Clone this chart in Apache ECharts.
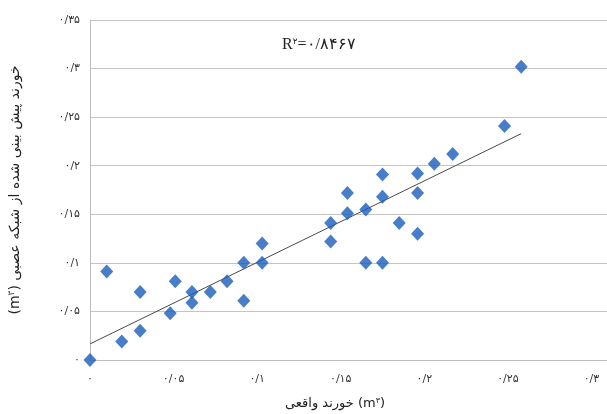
<!DOCTYPE html>
<html>
<head>
<meta charset="utf-8">
<script src="https://cdn.jsdelivr.net/npm/echarts@6/dist/echarts.min.js"></script>
<style>
  html, body { margin: 0; padding: 0; background: #fff; overflow: hidden; }
  #chart { width: 607px; height: 414px; }
</style>
</head>
<body>
<div id="chart"></div>
<script>
// Observed sediment volume (m³) vs. neural-network prediction (m³)
const observed = [
  0.000, 0.010, 0.019, 0.030, 0.030, 0.048, 0.051, 0.061, 0.061, 0.072,
  0.082, 0.092, 0.092, 0.103, 0.103, 0.144, 0.144, 0.154, 0.154, 0.165,
  0.165, 0.175, 0.175, 0.175, 0.185, 0.196, 0.196, 0.196, 0.206, 0.217,
  0.248, 0.258
];
const predicted = [
  0.000, 0.091, 0.019, 0.070, 0.030, 0.048, 0.081, 0.070, 0.059, 0.070,
  0.081, 0.100, 0.061, 0.100, 0.120, 0.141, 0.122, 0.172, 0.151, 0.155,
  0.100, 0.191, 0.168, 0.100, 0.141, 0.192, 0.172, 0.130, 0.202, 0.212,
  0.241, 0.302
];
const xTicks = [0, 0.05, 0.1, 0.15, 0.2, 0.25, 0.3, 0.35];
const yTicks = [0, 0.05, 0.1, 0.15, 0.2, 0.25, 0.3, 0.35];
const rSquaredText = '۰/۸۴۶۷';
const xTitle = 'خورند واقعی';
const yTitle = 'خورند پیش بینی شده از شبکه عصبی';

// Persian digits with "/" as the decimal mark
const faDigits = '۰۱۲۳۴۵۶۷۸۹';
function toFa(v) {
  const s = String(Math.round(v * 100) / 100);
  return s.replace(/[0-9]/g, d => faDigits[+d]).replace('.', '/');
}

// Least-squares linear trendline over the observed range
const n = observed.length;
const mx = observed.reduce((a, b) => a + b, 0) / n;
const my = predicted.reduce((a, b) => a + b, 0) / n;
let sxy = 0, sxx = 0;
for (let i = 0; i < n; i++) {
  sxy += (observed[i] - mx) * (predicted[i] - my);
  sxx += (observed[i] - mx) * (observed[i] - mx);
}
const slope = sxy / sxx;
const intercept = my - slope * mx;
const xMin = Math.min(...observed), xMax = Math.max(...observed);
const trend = [[xMin, intercept + slope * xMin], [xMax, intercept + slope * xMax]];

const points = observed.map((x, i) => [x, predicted[i]]);

const labelFont = '"DejaVu Sans", "Noto Sans", sans-serif';
const titleRich = {
  t: { fontFamily: labelFont, fontSize: 13, fill: '#222', color: '#222' },
  s: { fontFamily: labelFont, fontSize: 8, fill: '#222', color: '#222', verticalAlign: 'top', padding: [0, 0, 7, 0] }
};
const yTitleRich = {
  t: { fontFamily: labelFont, fontSize: 14, color: '#222' },
  s: { fontFamily: labelFont, fontSize: 9, color: '#222', verticalAlign: 'top', padding: [0, 0, 7, 0] }
};

const chart = echarts.init(document.getElementById('chart'));
chart.setOption({
  animation: false,
  backgroundColor: '#ffffff',
  // the plot runs on past the right edge of the canvas (last tick 0.35 is off-canvas)
  grid: { left: 90, top: 20, height: 340, width: 585, outerBoundsMode: 'none' },
  xAxis: {
    type: 'value',
    min: xTicks[0], max: xTicks[xTicks.length - 1], interval: 0.05,
    axisLine: { show: true, lineStyle: { color: '#bdbdbd', width: 1 } },
    axisTick: { show: false },
    splitLine: { show: false },
    axisLabel: {
      formatter: v => toFa(v), margin: 14,
      fontFamily: labelFont, fontSize: 11, color: '#333'
    }
  },
  yAxis: {
    type: 'value',
    min: yTicks[0], max: yTicks[yTicks.length - 1], interval: 0.05,
    name: '{t|(m}{s|۳}{t|) ' + yTitle + '}',
    nameLocation: 'middle', nameGap: 67, nameRotate: 90,
    nameTextStyle: { rich: yTitleRich },
    axisLine: { show: true, lineStyle: { color: '#bdbdbd', width: 1 } },
    axisTick: { show: false },
    splitLine: { show: true, lineStyle: { color: '#c4c4c4', width: 1 } },
    axisLabel: {
      formatter: v => toFa(v), margin: 10,
      fontFamily: labelFont, fontSize: 11, color: '#333'
    }
  },
  graphic: [
    {
      type: 'text',
      left: 282, top: 37,
      style: {
        text: '{r|R}{s|۲}{r|=' + rSquaredText + '}',
        rich: {
          r: { fontFamily: '"Liberation Serif", "DejaVu Serif", serif', fontSize: 16, fill: '#222' },
          s: { fontFamily: labelFont, fontSize: 9, fill: '#222', verticalAlign: 'top', padding: [0, 0, 7, 0] }
        }
      }
    },
    {
      type: 'text',
      x: 335, y: 404,
      style: {
        text: '{t|' + xTitle + ' (m}{s|۳}{t|)}',
        align: 'center', verticalAlign: 'middle',
        rich: titleRich
      }
    }
  ],
  series: [
    {
      type: 'line',
      data: trend,
      symbol: 'none',
      lineStyle: { color: '#4a4a4a', width: 1 },
      z: 2
    },
    {
      type: 'scatter',
      data: points,
      symbol: 'diamond',
      symbolSize: [13, 14],
      itemStyle: { color: '#1a5cbc' },
      z: 3
    }
  ]
});
</script>
</body>
</html>
